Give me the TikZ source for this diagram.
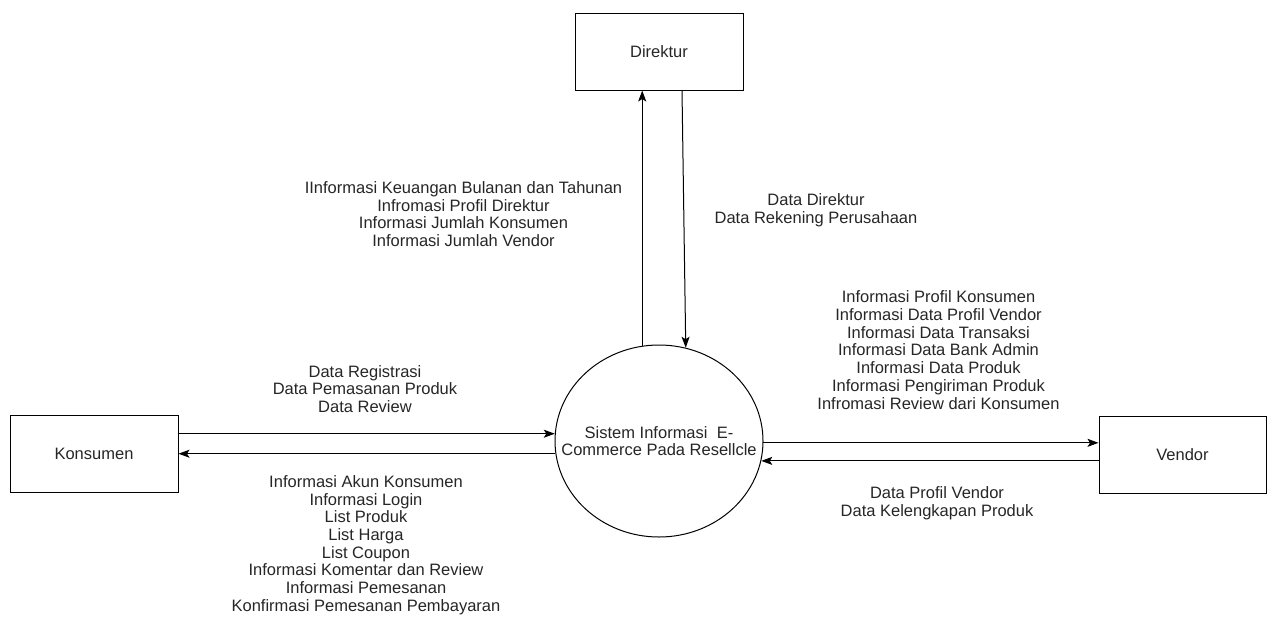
\documentclass[tikz,border=0pt]{standalone}
\usepackage{fontspec}
\setmainfont{Liberation Sans}
\usetikzlibrary{arrows.meta,shapes.geometric}

\tikzset{
  entity/.style={draw, line width=1pt, rectangle, minimum width=168pt, minimum height=77pt, inner sep=0pt, text=black!85},
  process/.style={draw, line width=1pt, ellipse, minimum width=208pt, minimum height=192pt, inner sep=0pt},
  lbl/.style={align=center, inner sep=0pt, text=black!85},
  flow/.style={line width=1pt, -{Stealth[length=11pt,width=8pt,inset=2.5pt]}}
}

\begin{document}
\begin{tikzpicture}[x=1pt,y=-1pt,font=\fontsize{16.5}{17.7}\selectfont]
  \useasboundingbox (0,0) rectangle (1273,619);

  % external entities and the central process
  \node[entity] (dir) at (659,51.5) {Direktur};
  \node[entity] (kon) at (94,454) {Konsumen};
  \node[entity, minimum width=167pt] (ven) at (1182.5,454.5) {Vendor};
  \node[process, label={[lbl]center:{Sistem Informasi~~E-\\Commerce Pada Resellcle}}] (sys) at (659,441) {};

  % data flows
  \draw[flow] (sys.100) -- (sys.100 |- dir.south);
  \draw[flow] ([xshift=23pt]dir.south) -- (sys.74);
  \draw[flow] (kon.east |- sys.176) -- (sys.176);
  \draw[flow] (sys.187) -- (kon.east |- sys.187);
  \draw[flow] (sys.359) -- (ven.west |- sys.359);
  \draw[flow] (ven.west |- sys.349) -- (sys.349);

  % flow labels
  \node[lbl] (tDirUp) at (463.5,214) {IInformasi Keuangan Bulanan dan Tahunan\\Infromasi Profil Direktur\\Informasi Jumlah Konsumen\\Informasi Jumlah Vendor};
  \node[lbl] (tDirDown) at (816,210) {Data Direktur\\Data Rekening Perusahaan};
  \node[lbl] (tVenOut) at (938.5,350) {Informasi Profil Konsumen\\Informasi Data Profil Vendor\\Informasi Data Transaksi\\Informasi Data Bank Admin\\Informasi Data Produk\\Informasi Pengiriman Produk\\Infromasi Review dari Konsumen};
  \node[lbl] (tKonIn) at (365,389) {Data Registrasi\\Data Pemasanan Produk\\Data Review};
  \node[lbl] (tKonOut) at (366,545) {Informasi Akun Konsumen\\Informasi Login\\List Produk\\List Harga\\List Coupon\\Informasi Komentar dan Review\\Informasi Pemesanan\\Konfirmasi Pemesanan Pembayaran};
  \node[lbl] (tVenIn) at (937,503) {Data Profil Vendor\\Data Kelengkapan Produk};
\end{tikzpicture}
\end{document}
